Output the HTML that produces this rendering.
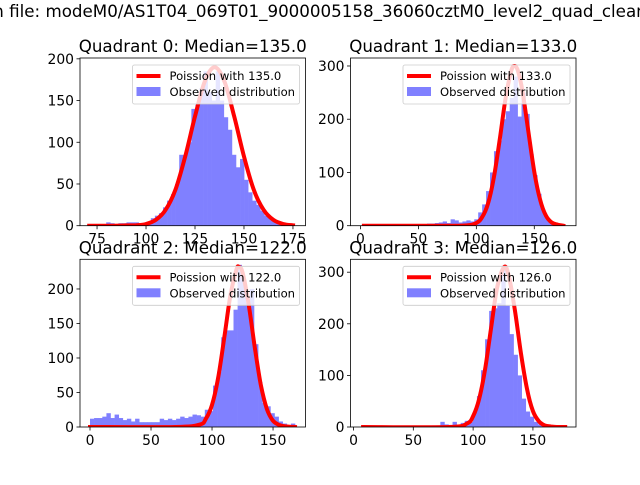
<!DOCTYPE html>
<html><head><meta charset="utf-8"><style>
body{margin:0;background:#fff;width:640px;height:480px;overflow:hidden}
svg{font-family:"DejaVu Sans","Liberation Sans",sans-serif}
</style></head><body>
<svg id="chart" width="640" height="480" viewBox="0 0 640 480" xmlns="http://www.w3.org/2000/svg">
<rect width="640" height="480" fill="#fff"/>
<text x="320" y="17" font-size="16.7" text-anchor="middle">n file: modeM0/AS1T04_069T01_9000005158_36060cztM0_level2_quad_clean</text>
</svg>
<script>
const titles = ["Quadrant 0: Median=135.0","Quadrant 1: Median=133.0","Quadrant 2: Median=122.0","Quadrant 3: Median=126.0"];
const poissonLabels = ["Poission with 135.0","Poission with 133.0","Poission with 122.0","Poission with 126.0"];
const binStart = [71.4, 3, 0, 8];
const binWidth = [2.07, 3.4, 3.36, 3.4];
const counts0 = [0,1,0,2,4,3,2,3,3,4,4,4,2,3,5,9,12,15,22,30,38,50,85,84,100,140,145,165,185,160,150,185,150,130,115,85,70,80,55,40,30,25,18,12,10,6,3,2,1,0];
const counts1 = [0,0,0,0,0,0,0,0,2,0,1,0,1,2,2,2,4,4,5,6,8,5,12,10,6,8,10,8,12,25,40,65,100,140,160,200,215,240,280,205,250,210,135,95,60,30,15,8,3,1];
const counts2 = [12,13,13,15,20,13,18,13,10,12,8,12,7,7,7,7,7,12,10,12,10,12,15,13,15,18,17,15,25,23,60,80,130,140,140,170,235,215,180,200,120,65,35,30,20,15,8,5,3,5];
const counts3 = [0,0,0,0,0,0,0,0,0,0,0,0,0,0,0,0,0,3,3,10,5,4,10,3,8,12,10,30,60,110,170,225,230,240,305,235,180,140,100,55,30,20,10,5,2,0,0,0,0,0];
const curveX0 = [71,80,90,95,100,105,110,115,120,125,130,135,140,145,150,155,160,165,170,175];
const curveY0 = [0,0,0.3,0.5,2,7,19,43,83,131,173,190,173,131,83,43,19,7,2,0.5];
const curveX1 = [3,60,90,100,105,110,115,120,125,130,133,136,140,145,150,155,160,165,170,175];
const curveY1 = [0,0,0.3,5,16,41,89,159,236,290,300,290,250,175,101,49,19,6,2,0];
const curveX2 = [0,70,90,95,100,105,110,115,120,122,125,130,135,140,145,150,155,160,168];
const curveY2 = [0,0,3.5,12,32,71,129,190,228,232,224,178,116,61,26,9,3,1,0];
const curveX3 = [8,80,95,100,105,110,115,120,126,130,135,140,145,150,155,160,165,170,177];
const curveY3 = [0,0,7,21,54,112,192,269,310,291,225,142,74,31,11,3,1,0,0];
const xTicks = [[75,100,125,150,175],[0,50,100,150],[0,50,100,150],[0,50,100,150]];
const yTicks = [[0,50,100,150,200],[0,100,200,300],[0,50,100,150,200],[0,100,200,300]];
const countsAll=[counts0,counts1,counts2,counts3];
const cxAll=[curveX0,curveX1,curveX2,curveX3], cyAll=[curveY0,curveY1,curveY2,curveY3];
const boxes=[{l:80,r:305.5,t:58,b:225.7},{l:350.5,r:576,t:58,b:225.7},{l:80,r:305.5,t:259.3,b:427},{l:350.5,r:576,t:259.3,b:427}];
const xlims=[[66.3,181.4],[-8.6,186],[-8.2,176.6],[-2.5,186]];
const ylims=[[0,201],[0,315],[0,243],[0,325]];
const NS="http://www.w3.org/2000/svg";
const svg=document.getElementById('chart');
function mk(tag,attrs,parent){const e=document.createElementNS(NS,tag);for(const k in attrs)e.setAttribute(k,attrs[k]);(parent||svg).appendChild(e);return e;}
function smooth(P){let d='M'+P[0][0].toFixed(1)+','+P[0][1].toFixed(1);
  for(let i=0;i<P.length-1;i++){const p0=P[i-1]||P[i],p1=P[i],p2=P[i+1],p3=P[i+2]||p2;
    const c1=[p1[0]+(p2[0]-p0[0])/6,p1[1]+(p2[1]-p0[1])/6],c2=[p2[0]-(p3[0]-p1[0])/6,p2[1]-(p3[1]-p1[1])/6];
    d+=' C'+c1.map(v=>v.toFixed(1))+' '+c2.map(v=>v.toFixed(1))+' '+p2.map(v=>v.toFixed(1));}
  return d;}
for(let p=0;p<4;p++){
  const B=boxes[p],[x0,x1]=xlims[p],[y0,y1]=ylims[p];
  const sx=v=>B.l+(v-x0)/(x1-x0)*(B.r-B.l);
  const sy=v=>B.b-(v-y0)/(y1-y0)*(B.b-B.t);
  const g=mk('g',{});
  
  
  const cp=mk('clipPath',{id:'c'+p},g);mk('rect',{x:B.l,y:B.t,width:B.r-B.l,height:B.b-B.t},cp);
  const cg=mk('g',{'clip-path':'url(#c'+p+')'},g);
  countsAll[p].forEach((c,i)=>{
    if(c<=0)return;
    const a=binStart[p]+i*binWidth[p];
    const r=mk('rect',{x:sx(a),y:sy(c),width:sx(a+binWidth[p])-sx(a)+0.3,height:sy(0)-sy(c),fill:'#8080ff'},cg);
    
    
  });
  const P=cxAll[p].map((x,i)=>[sx(x),sy(cyAll[p][i])]);
  const pl=mk('path',{d:smooth(P),fill:'none',stroke:'#ff0000','stroke-width':4,'stroke-linejoin':'round','stroke-linecap':'square'},cg);
  
  
  mk('rect',{x:B.l,y:B.t,width:B.r-B.l,height:B.b-B.t,fill:'none',stroke:'#000','stroke-width':0.8},g);
  xTicks[p].forEach(t=>{const x=sx(t);mk('line',{x1:x,x2:x,y1:B.b,y2:B.b+3.5,stroke:'#000','stroke-width':0.8},g);
    const tx=mk('text',{x:x,y:B.b+18,'font-size':13.9,'text-anchor':'middle'},g);tx.textContent=t;
    
    });
  yTicks[p].forEach(t=>{const y=sy(t);mk('line',{x1:B.l-3.5,x2:B.l,y1:y,y2:y,stroke:'#000','stroke-width':0.8},g);
    const tx=mk('text',{x:B.l-6,y:y+5,'font-size':13.9,'text-anchor':'end'},g);tx.textContent=t;
    
    });
  const tt=mk('text',{x:(B.l+B.r)/2,y:B.t-6,'font-size':16.7,'text-anchor':'middle'},g);tt.textContent=titles[p];
  
  
  const lg=mk('g',{},g);
  
  
  const L=B.r-173,T=B.t+7;
  mk('rect',{x:L,y:T,width:167,height:39,rx:2,fill:'#fff','fill-opacity':0.8,stroke:'#ccc','stroke-width':0.8},lg);
  mk('line',{x1:L+4,x2:L+28,y1:T+11,y2:T+11,stroke:'#ff0000','stroke-width':4},lg);
  mk('rect',{x:L+4,y:T+22,width:24,height:9,fill:'#8080ff'},lg);
  const t1=mk('text',{x:L+37,y:T+15,'font-size':11.6},lg);t1.textContent=poissonLabels[p];
  
  
  const t2=mk('text',{x:L+37,y:T+31,'font-size':11.6},lg);t2.textContent='Observed distribution';
  
  
}
</script>
</body></html>
